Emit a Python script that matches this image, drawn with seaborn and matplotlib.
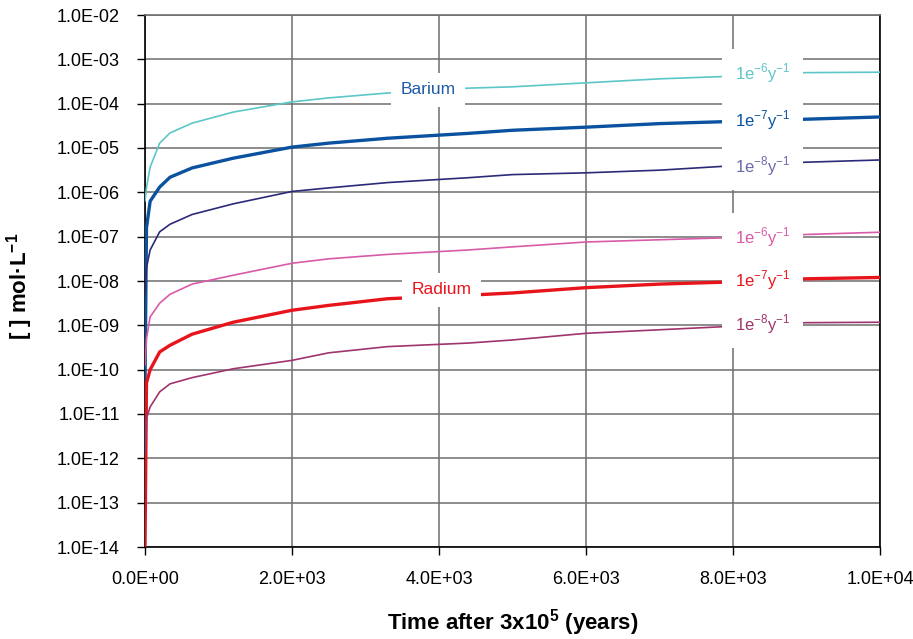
import numpy as np
import pandas as pd
import matplotlib
matplotlib.use("Agg")
import matplotlib.pyplot as plt
from matplotlib.ticker import FixedLocator, FuncFormatter, NullLocator
import seaborn as sns

# Time after 3x10^5 years (years)
time_years = [0, 20, 70, 200, 340, 640, 1200, 2000, 2500, 3300, 4400,
              5000, 6000, 7000, 8000, 9000, 10000]

# log10 of concentration (mol/L) for each element and dissolution rate
ba_1e6 = [-6.2, -5.9, -5.43, -4.89, -4.66, -4.44, -4.19, -3.96, -3.87, -3.76,
          -3.65, -3.62, -3.53, -3.44, -3.38, -3.30, -3.29]
ba_1e7 = [-10.3, -6.8, -6.2, -5.88, -5.66, -5.45, -5.23, -4.98, -4.89, -4.78,
          -4.67, -4.60, -4.53, -4.45, -4.40, -4.35, -4.30]
ba_1e8 = [-8.3, -7.7, -7.3, -6.89, -6.72, -6.50, -6.26, -5.98, -5.90, -5.78,
          -5.67, -5.60, -5.56, -5.50, -5.40, -5.32, -5.27]
ra_1e6 = [-9.9, -9.3, -8.81, -8.50, -8.30, -8.07, -7.87, -7.60, -7.50, -7.40,
          -7.30, -7.23, -7.12, -7.07, -7.02, -6.95, -6.90]
ra_1e7 = [-14.0, -10.3, -10.0, -9.60, -9.45, -9.20, -8.93, -8.66, -8.55, -8.40,
          -8.32, -8.27, -8.15, -8.07, -8.02, -7.95, -7.92]
ra_1e8 = [-11.9, -11.1, -10.84, -10.50, -10.32, -10.18, -9.98, -9.79, -9.62, -9.48,
          -9.40, -9.33, -9.18, -9.10, -9.02, -8.94, -8.93]

series = [
    ("Ba 1e-6", ba_1e6, "#5CC6C8", 1.2),
    ("Ba 1e-7", ba_1e7, "#0A52A0", 2.4),
    ("Ba 1e-8", ba_1e8, "#2C2A78", 1.2),
    ("Ra 1e-6", ra_1e6, "#D85AA8", 1.2),
    ("Ra 1e-7", ra_1e7, "#E8141C", 2.4),
    ("Ra 1e-8", ra_1e8, "#A0346E", 1.2),
]

# Rate labels at the right (x, log10 y, exponent, colour)
rate_labels = [
    (8400, -3.31, "-6", "#5CC6C8"),
    (8400, -4.37, "-7", "#0A52A0"),
    (8400, -5.41, "-8", "#6A6AA8"),
    (8400, -7.01, "-6", "#D85AA8"),
    (8400, -7.98, "-7", "#E8141C"),
    (8400, -8.97, "-8", "#A0346E"),
]

sns.set_style("white")
plt.rcParams["font.family"] = ["Liberation Sans", "DejaVu Sans"]
plt.rcParams["axes.unicode_minus"] = False

fig = plt.figure(figsize=(9.13, 6.39), dpi=100)
ax = fig.add_axes([145 / 913, 1 - 547 / 639, (880 - 145) / 913, (547 - 15) / 639])

for name, logs, color, lw in series:
    df = pd.DataFrame({"t": time_years, "c": np.power(10.0, logs)})
    sns.lineplot(data=df, x="t", y="c", ax=ax, color=color, linewidth=lw,
                 estimator=None, sort=False, zorder=3)

ax.set_yscale("log")
ax.set_xlim(0, 10000)
ax.set_ylim(1e-14, 1e-2)

yticks = [10.0 ** e for e in range(-14, -1)]
ax.yaxis.set_major_locator(FixedLocator(yticks))
ax.yaxis.set_minor_locator(NullLocator())
ax.yaxis.set_major_formatter(FuncFormatter(lambda v, p: f"{v:.1E}"))
ax.xaxis.set_major_locator(FixedLocator([0, 2000, 4000, 6000, 8000, 10000]))
ax.xaxis.set_major_formatter(FuncFormatter(lambda v, p: f"{v:.1E}"))

ax.grid(True, which="major", color="#6e6e6e", linewidth=1.1, zorder=1)
ax.set_axisbelow(True)
for s in ax.spines.values():
    s.set_color("black")
    s.set_linewidth(1.2)
ax.spines["top"].set_color("#6e6e6e")

ax.tick_params(axis="both", which="major", direction="out", length=6, width=1,
               color="black", labelsize=13, labelcolor="black",
               left=True, bottom=True)
ax.tick_params(axis="y", pad=12)
ax.tick_params(axis="x", pad=11)

ax.set_xlabel("Time after 3x10$^{\\mathregular{5}}$ (years)", fontsize=16,
              fontweight="bold", color="black")
ax.set_ylabel("[ ] mol·L$^{\\mathregular{-1}}$", fontsize=16, fontweight="bold",
              color="black")
ax.xaxis.set_label_coords(0.5, -0.113)
ax.yaxis.set_label_coords(-0.149, 0.49)

box = dict(boxstyle="square,pad=0.55", facecolor="white", edgecolor="none")
ax.text(3850, 10 ** -3.69, "Barium", color="#1F5AA6", fontsize=12.5,
        ha="center", va="center", bbox=box, zorder=5)
ax.text(4030, 10 ** -8.20, "Radium", color="#E8141C", fontsize=12.5,
        ha="center", va="center", bbox=box, zorder=5)

rbox = dict(boxstyle="square,pad=0.75", facecolor="white", edgecolor="none")
for x, ly, exp, color in rate_labels:
    ax.text(x, 10 ** ly, "1e$^{\\mathregular{" + exp + "}}$y$^{\\mathregular{-1}}$",
            color=color, fontsize=12, ha="center", va="center", bbox=rbox, zorder=5)

fig.savefig("out.png", dpi=100)
